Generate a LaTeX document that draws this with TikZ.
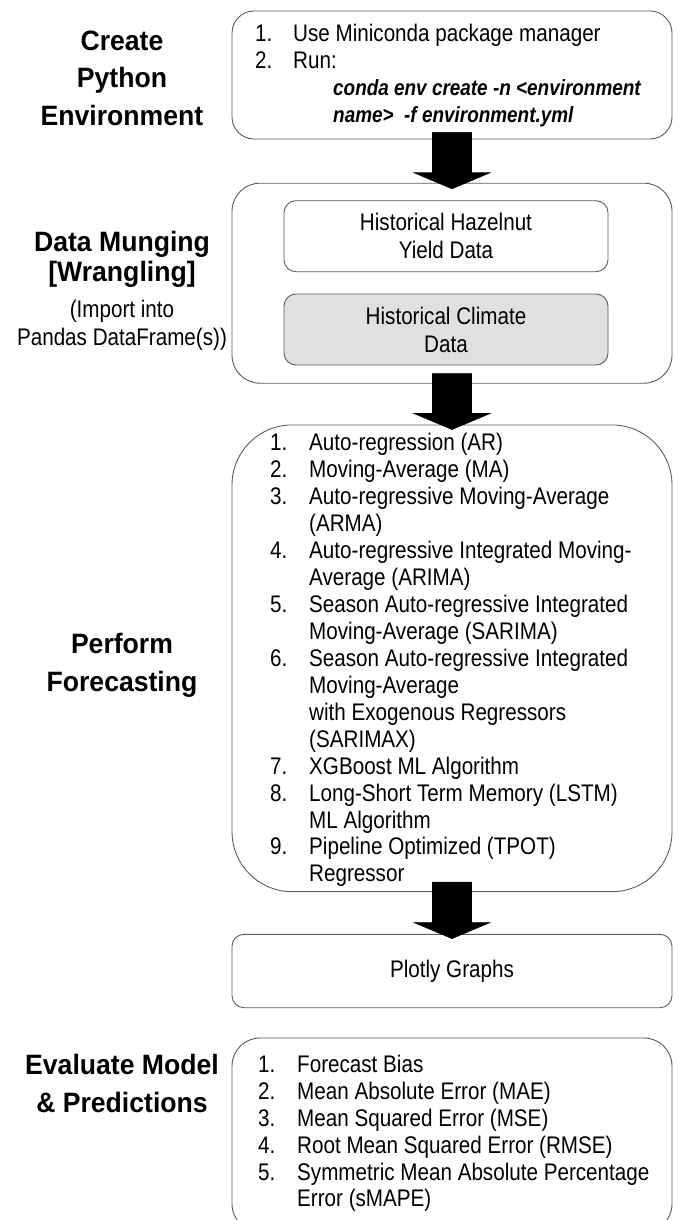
\documentclass[tikz,border=0pt]{standalone}
\usepackage{fontspec}
\setmainfont{Liberation Sans}[FakeStretch=0.86]
\newfontfamily\titlefont{Liberation Sans}[FakeStretch=0.95]
\usetikzlibrary{calc}
\definecolor{bord}{HTML}{5C5C5C}
\definecolor{lightfill}{HTML}{E0E0E0}
\newlength\numw
\newcommand{\li}[2]{\strut\makebox[\numw][l]{#1}#2}
\newcommand{\lc}[1]{\strut\hspace*{\numw}#1}
\newcommand{\cmdline}[1]{\strut\hspace*{78pt}{\fontsize{22}{26.8}\selectfont\textbf{\textit{#1}}}}
\newcommand{\blockarrow}[2]{%
  \filldraw[arrowfill] let \p1=(#1), \p2=(#2) in
  (\x1-19.5pt,\y1) -- (\x1+19.5pt,\y1) -- (\x1+19.5pt,\y2+16pt) -- (\x1+38pt,\y2+16pt)
  -- (\x1,\y2) -- (\x1-38pt,\y2+16pt) -- (\x1-19.5pt,\y2+16pt) -- cycle;}
\tikzset{
  box/.style={draw=bord, line width=0.9pt, fill=white, inner sep=0pt, minimum width=440pt},
  innerbox/.style={draw=bord, line width=0.9pt, inner sep=0pt, rounded corners=12pt,
    minimum width=324pt, minimum height=71pt, align=center,
    font=\fontsize{24}{28}\selectfont},
  arrowfill/.style={draw=black, fill=black, line width=0.6pt},
  title/.style={inner sep=0pt, align=center, anchor=north},
  listtxt/.style={inner sep=0pt, align=left, anchor=north west}
}
\begin{document}
\begin{tikzpicture}[x=1pt,y=-1pt]
\useasboundingbox (0,0) rectangle (678,1220);
\clip (0,0) rectangle (678,1220);

% boxes
\node[box, rounded corners=22pt, minimum height=128pt] (env) at (452,75) {};
\node[box, rounded corners=28pt, minimum height=200pt] (mung) at (452,283.2) {};
\node[innerbox, fill=white] (yield) at (446,236.2) {Historical Hazelnut\\Yield Data};
\node[innerbox, fill=lightfill] (climate) at (446,329.5) {Historical Climate\\Data};
\node[box, rounded corners=60pt, minimum height=466.7pt] (fore) at (452,658.3) {};
\node[box, rounded corners=12pt, minimum height=73.4pt,
      font=\fontsize{24}{28}\selectfont] (plotly) at (452,971) {\raisebox{-2pt}{Plotly Graphs}};
\node[box, rounded corners=28pt, minimum height=194pt] (eval) at (452,1135) {};

% arrows
\blockarrow{[yshift=7pt]env.south}{[yshift=-6pt]mung.north}
\blockarrow{[yshift=10pt]mung.south}{[yshift=-5pt]fore.north}
\blockarrow{[yshift=10pt]fore.south}{[yshift=-4.7pt]plotly.north}

% box texts
\node[listtxt, font={\fontsize{24}{26.8}\selectfont\setlength\numw{38pt}}] (envlist) at (255,22.9)
  {\li{1.}{Use Miniconda package manager}\\
   \li{2.}{Run:}\\
   \cmdline{conda env create -n <environment}\\
   \cmdline{name>\ \ -f environment.yml}};

\node[listtxt, font={\fontsize{24}{26.94}\selectfont\setlength\numw{39pt}}] (forelist) at (270,431.8)
  {\li{1.}{Auto-regression (AR)}\\
   \li{2.}{Moving-Average (MA)}\\
   \li{3.}{Auto-regressive Moving-Average}\\
   \lc{(ARMA)}\\
   \li{4.}{Auto-regressive Integrated Moving-}\\
   \lc{Average (ARIMA)}\\
   \li{5.}{Season Auto-regressive Integrated}\\
   \lc{Moving-Average (SARIMA)}\\
   \li{6.}{Season Auto-regressive Integrated}\\
   \lc{Moving-Average}\\
   \lc{with Exogenous Regressors}\\
   \lc{(SARIMAX)}\\
   \li{7.}{XGBoost ML Algorithm}\\
   \li{8.}{Long-Short Term Memory (LSTM)}\\
   \lc{ML Algorithm}\\
   \li{9.}{Pipeline Optimized (TPOT)}\\
   \lc{Regressor}};

\node[listtxt, font={\fontsize{24}{26.8}\selectfont\setlength\numw{39pt}}] (evallist) at (258,1053.9)
  {\li{1.}{Forecast Bias}\\
   \li{2.}{Mean Absolute Error (MAE)}\\
   \li{3.}{Mean Squared Error (MSE)}\\
   \li{4.}{Root Mean Squared Error (RMSE)}\\
   \li{5.}{Symmetric Mean Absolute Percentage}\\
   \lc{Error (sMAPE)}};

% left titles
\node[title, font={\titlefont\bfseries\fontsize{28}{37.5}\selectfont}] (t1) at (122,23.75)
  {\strut Create\\Python\\Environment};
\node[title, font={\titlefont\bfseries\fontsize{28}{29.5}\selectfont}] (t2) at (122,231.1)
  {\strut Data Munging\\{[Wrangling]}};
\node[title, font={\fontsize{24}{28}\selectfont}] (t2b) at (122,297.4)
  {\strut(Import into\\Pandas DataFrame(s))};
\node[title, font={\titlefont\bfseries\fontsize{28}{38}\selectfont}] (t3) at (122,626.4)
  {\strut Perform\\Forecasting};
\node[title, font={\titlefont\bfseries\fontsize{28}{37.7}\selectfont}] (t4) at (122,1047.7)
  {\strut Evaluate Model\\\&{} Predictions};
\end{tikzpicture}
\end{document}
